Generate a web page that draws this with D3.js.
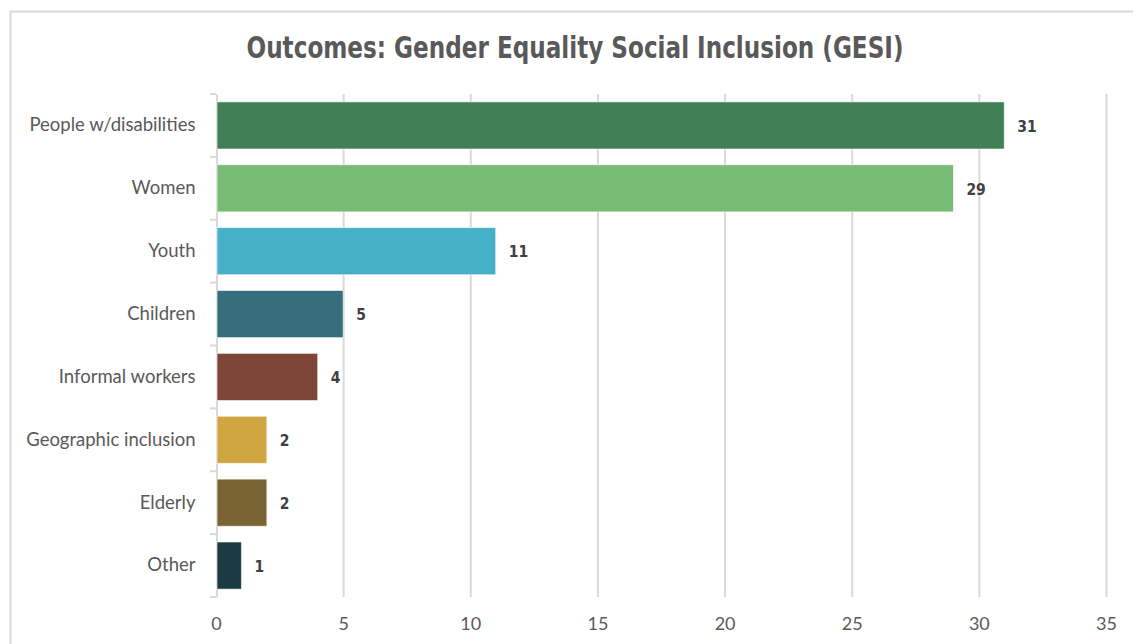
<!DOCTYPE html>
<html><head><meta charset="utf-8">
<script src="https://cdn.jsdelivr.net/npm/d3@7"></script>
<style>body{margin:0;background:#fff}svg{display:block}</style>
</head><body><svg id="c" width="1133" height="644"></svg>
<script>
const categories = ["People w/disabilities","Women","Youth","Children","Informal workers","Geographic inclusion","Elderly","Other"];
const values = [31,29,11,5,4,2,2,1];
const colors = ["#417f57","#79bb75","#47b0c9","#356f7e","#7d4638","#cfa642","#7b6433","#1c3a42"];
const xTicks = [0,5,10,15,20,25,30,35];
const title = "Outcomes: Gender Equality Social Inclusion (GESI)";

const svg = d3.select("#c");
// frame
svg.append("rect").attr("x",10.5).attr("y",11.5).attr("width",1140).attr("height",700)
  .attr("fill","none").attr("stroke","#d9d9d9").attr("stroke-width",2);

const x = d3.scaleLinear().domain([0,35]).range([216,1106]);
const y = d3.scaleBand().domain(categories).range([94,597]).paddingInner(0.25).paddingOuter(0.125);

// gridlines
svg.append("g").selectAll("line").data(xTicks.slice(1)).join("line")
  .attr("x1",d=>x(d)+0.5).attr("x2",d=>x(d)+0.5).attr("y1",94).attr("y2",597)
  .attr("stroke","#d9d9d9").attr("stroke-width",2);

// y axis
const yAxis = d3.axisLeft(y).tickSize(0).tickPadding(21);
const ga = svg.append("g").attr("transform","translate(216.5,0)").call(yAxis);
ga.select(".domain").attr("stroke","#d9d9d9").attr("stroke-width",2);
ga.selectAll("text").attr("font-family","Lato, 'Open Sans', sans-serif").attr("font-size",18.5).attr("fill","#595959");
// band boundary ticks
const bounds = categories.map(c=>y(c)-y.step()*y.paddingInner()/2).concat([597]);
svg.append("g").selectAll("line").data(bounds).join("line")
  .attr("x1",210).attr("x2",216).attr("y1",d=>d).attr("y2",d=>d)
  .attr("stroke","#d9d9d9").attr("stroke-width",2);

// x axis labels
const xAxis = d3.axisBottom(x).tickValues(xTicks).tickSize(0).tickPadding(20);
const gx = svg.append("g").attr("transform","translate(0,597)").call(xAxis);
gx.select(".domain").remove();
gx.selectAll("text").attr("font-family","Lato, 'Open Sans', sans-serif").attr("font-size",18).attr("fill","#595959");

// bars
svg.append("g").selectAll("rect").data(values).join("rect")
  .attr("x",x(0)+1).attr("y",(d,i)=>y(categories[i]))
  .attr("width",d=>x(d)-x(0)-1).attr("height",y.bandwidth())
  .attr("fill",(d,i)=>colors[i]).attr("stroke","rgba(255,255,255,0.6)").attr("stroke-width",1);

// value labels
svg.append("g").selectAll("text").data(values).join("text")
  .attr("x",d=>x(d)+13).attr("y",(d,i)=>y(categories[i])+y.bandwidth()/2)
  .attr("dy","0.4em").attr("font-family","'DejaVu Sans Condensed', 'DejaVu Sans', sans-serif")
  .attr("font-weight","bold").attr("font-size",15.5).attr("fill","#404040").text(d=>d);

// title
svg.append("text").attr("x",575).attr("y",58).attr("text-anchor","middle")
  .attr("font-family","'DejaVu Sans Condensed', 'DejaVu Sans', sans-serif").attr("font-weight","bold")
  .attr("font-size",30).attr("fill","#595959")
  .attr("textLength",657).attr("lengthAdjust","spacingAndGlyphs").text(title);
</script></body></html>
